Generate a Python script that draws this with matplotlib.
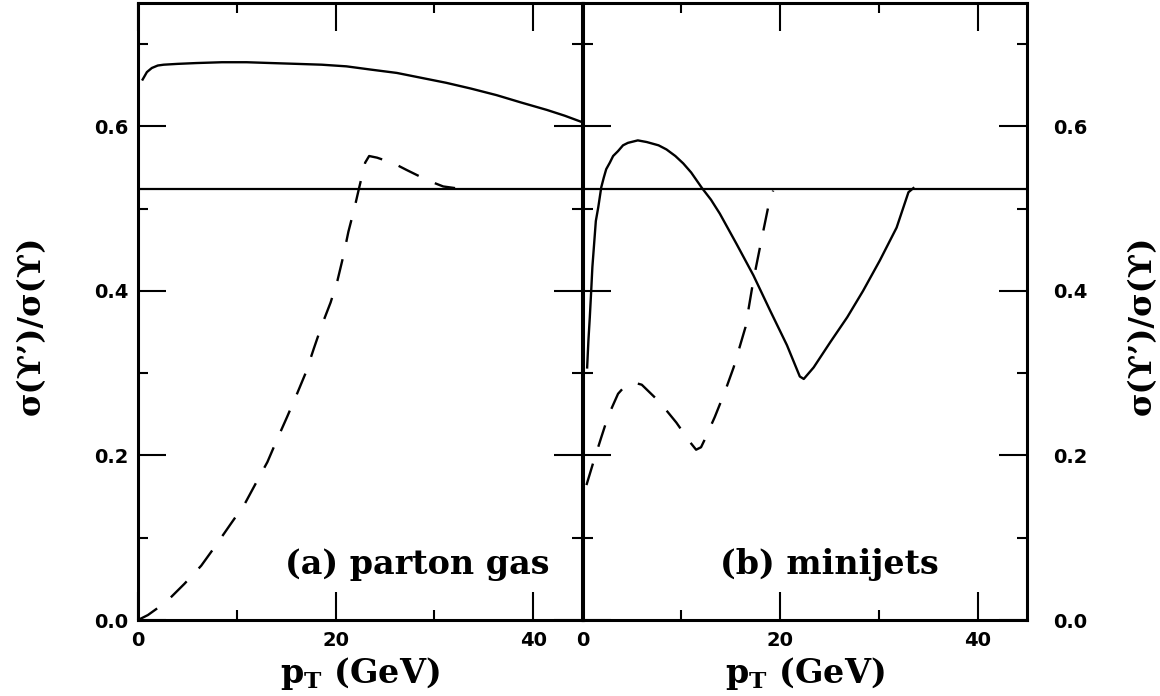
import numpy as np
import matplotlib
matplotlib.use("Agg")
from matplotlib import pyplot as plt
from matplotlib.ticker import MultipleLocator

# (a) parton gas
a_solid_x = [0.47, 0.9, 1.4, 2.0, 2.6, 4.0, 5.9, 8.5, 11.0, 13.5, 16.1, 18.6, 21.1, 23.6, 26.2,
             28.7, 31.2, 33.7, 36.3, 38.8, 41.4, 43.2, 45.0]
a_solid_y = [0.657, 0.666, 0.671, 0.674, 0.675, 0.676, 0.677, 0.678, 0.678, 0.677, 0.676, 0.675,
             0.673, 0.669, 0.665, 0.659, 0.653, 0.646, 0.638, 0.629, 0.620, 0.613, 0.605]
a_dash_x = [0.0, 1.0, 2.86, 4.7, 6.4, 7.9, 9.4, 10.8, 12.1, 13.1, 14.1, 15.1, 16.1, 17.0, 17.8,
            18.6, 19.5, 20.2, 20.8, 21.3, 21.9, 22.4, 23.0, 23.4, 24.2, 25.9, 27.2, 29.4, 30.9, 32.1]
a_dash_y = [0.0, 0.006, 0.022, 0.044, 0.066, 0.091, 0.117, 0.141, 0.170, 0.192, 0.220, 0.247,
            0.275, 0.301, 0.330, 0.358, 0.386, 0.413, 0.443, 0.472, 0.500, 0.526, 0.556, 0.564,
            0.562, 0.555, 0.547, 0.534, 0.527, 0.525]

# (b) minijets
b_solid_x = [0.47, 0.6, 0.74, 0.88, 1.0, 1.15, 1.35, 1.6, 1.9, 2.16, 2.4, 2.77, 3.1, 3.6, 4.1,
             4.6, 5.6, 6.5, 7.7, 8.5, 9.4, 10.2, 11.0, 12.1, 13.0, 13.9, 15.6, 17.3, 19.0, 20.7,
             22.0, 22.4, 23.4, 25.1, 26.8, 28.4, 30.1, 31.8, 33.0, 33.5]
b_solid_y = [0.307, 0.340, 0.368, 0.400, 0.429, 0.453, 0.485, 0.502, 0.526, 0.538, 0.548, 0.556,
             0.564, 0.570, 0.577, 0.580, 0.583, 0.581, 0.577, 0.572, 0.564, 0.555, 0.544, 0.525,
             0.511, 0.494, 0.457, 0.419, 0.376, 0.334, 0.296, 0.293, 0.307, 0.338, 0.368, 0.400,
             0.437, 0.477, 0.520, 0.525]
b_dash_x = [0.4, 1.08, 1.9, 2.6, 3.6, 4.2, 4.8, 5.4, 6.0, 7.8, 9.5, 10.9, 11.5, 12.0, 12.4,
            13.4, 14.4, 15.3, 16.5, 17.3, 18.1, 18.8, 19.3]
b_dash_y = [0.164, 0.191, 0.222, 0.248, 0.275, 0.283, 0.287, 0.288, 0.286, 0.265, 0.240, 0.216,
            0.207, 0.210, 0.220, 0.247, 0.277, 0.307, 0.356, 0.413, 0.461, 0.502, 0.522]

ref_level = 0.524
xticks = [0, 20, 40]
yticks = [0.0, 0.2, 0.4, 0.6]
ytick_labels = ["0.0", "0.2", "0.4", "0.6"]

serif = ["DejaVu Serif", "DejaVu Sans"]

fig = plt.figure(figsize=(11.6, 6.96), dpi=100)
axl = fig.add_axes([138 / 1160, 1 - 620 / 696, 444.5 / 1160, 617 / 696])
axr = fig.add_axes([582.5 / 1160, 1 - 620 / 696, 444.5 / 1160, 617 / 696])

for ax in (axl, axr):
    ax.set_xlim(0, 45)
    ax.set_ylim(0, 0.75)
    ax.xaxis.set_major_locator(MultipleLocator(20))
    ax.xaxis.set_minor_locator(MultipleLocator(10))
    ax.yaxis.set_major_locator(MultipleLocator(0.2))
    ax.yaxis.set_minor_locator(MultipleLocator(0.1))
    ax.tick_params(which="both", direction="in", top=True, right=True, left=True, bottom=True,
                   width=1.5, colors="black")
    ax.tick_params(which="major", length=20)
    ax.tick_params(which="minor", length=7)
    ax.tick_params(axis="x", which="major", pad=8, labelsize=14)
    for s in ax.spines.values():
        s.set_linewidth(2.2)
    ax.axhline(ref_level, color="black", lw=1.6)
    ax.set_xticks(xticks)
    ax.set_xticklabels([str(v) for v in xticks], fontweight="bold")

axl.plot(a_solid_x, a_solid_y, color="black", lw=1.7)
axl.plot(a_dash_x, a_dash_y, color="black", lw=1.7, dashes=(9.5, 7.5))
axr.plot(b_solid_x, b_solid_y, color="black", lw=1.7)
axr.plot(b_dash_x, b_dash_y, color="black", lw=1.7, dashes=(9.5, 7.5))

axl.set_yticks(yticks)
axl.set_yticklabels(ytick_labels, fontweight="bold")
axl.tick_params(axis="y", which="major", labelleft=True, labelright=False, labelsize=14, pad=7)

axr.set_yticks(yticks)
axr.set_yticklabels(ytick_labels, fontweight="bold")
axr.tick_params(axis="y", which="major", labelleft=False, labelright=True, labelsize=14, pad=19)

axl.text(41.7, 0.067, "(a) parton gas", ha="right", va="center", fontsize=24,
         family=serif, fontweight="bold")
axr.text(25.0, 0.067, "(b) minijets", ha="center", va="center", fontsize=24,
         family=serif, fontweight="bold")

xlab = r"p$_\mathregular{T}$ (GeV)"
fig.text(360 / 1160, 1 - 683 / 696, xlab, ha="center", va="baseline", fontsize=24,
         family=serif, fontweight="bold")
fig.text(805 / 1160, 1 - 683 / 696, xlab, ha="center", va="baseline", fontsize=24,
         family=serif, fontweight="bold")

ylab = "σ(ϒ’)/σ(ϒ)"
fig.text(31 / 1160, 1 - 325 / 696, ylab, rotation=90, ha="center", va="center", fontsize=23,
         family=serif, fontweight="bold")
fig.text(1142 / 1160, 1 - 325 / 696, ylab, rotation=90, ha="center", va="center", fontsize=23,
         family=serif, fontweight="bold")

fig.savefig("out.png", dpi=100)
